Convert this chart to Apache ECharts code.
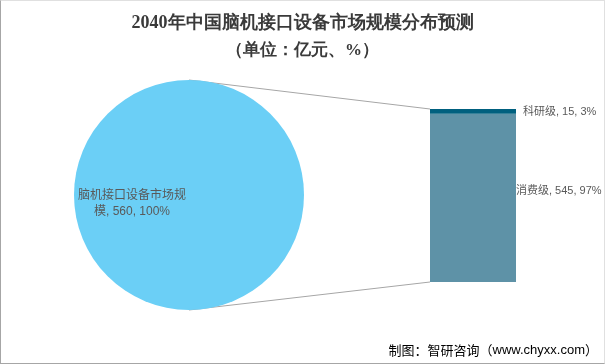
<!DOCTYPE html>
<html><head><meta charset="utf-8">
<script src="https://cdn.jsdelivr.net/npm/echarts@6/dist/echarts.min.js"></script>
<style>html,body{margin:0;padding:0;background:#fff}#c{width:605px;height:364px;box-sizing:border-box;border:1px solid #a6a6a6;border-top-color:#e0e0e0;border-right-color:#e0e0e0}</style>
</head><body><div id="c"></div>
<script>
var titleText = '2040年中国脑机接口设备市场规模分布预测';
var subTitleText = '（单位：亿元、%）';
var pieName = '脑机接口设备市场规模';
var pieValue = 560;
var piePercent = 100;
var barCategories = ['消费级', '科研级'];
var barValues = [545, 15];
var barPercents = [97, 3];

var PIE_C = [188, 194], PIE_R = 115;
var chart = echarts.init(document.getElementById('c'), null, {renderer: 'canvas'});
var font = 'Liberation Sans, Noto Sans CJK SC, sans-serif';
var barSeries = barCategories.map(function (name, i) {
  var isTop = i === barCategories.length - 1;
  return {
    type: 'bar', name: name, stack: 's', barWidth: '100%',
    data: [barValues[i]],
    itemStyle: {color: isTop ? '#00607F' : '#5E92A7'},
    label: {
      show: true, position: 'right', distance: isTop ? 7 : 0,
      offset: isTop ? [0, 1] : [0, -7],
      color: '#595959', fontSize: 11, fontFamily: font,
      formatter: function () { return name + ', ' + barValues[i] + ', ' + barPercents[i] + '%'; }
    },
    emphasis: {disabled: true}, silent: true
  };
});
var footer = {
  id: 'footer', type: 'text', right: 6, bottom: 6,
  style: {
    text: '{a|制图：智研咨询（}{b|www.chyxx.com}{a|）}',
    rich: {
      a: {fontSize: 13, color: '#111', fontFamily: 'Noto Sans CJK SC'},
      b: {fontSize: 13, color: '#1a2f8a', fontFamily: 'Liberation Sans'}
    }
  }
};
chart.setOption({
  animation: false,
  title: [
    {text: titleText, left: 'center', top: 8, textStyle: {fontSize: 18, fontWeight: 'bold', color: '#3a3a3a', fontFamily: 'Liberation Serif'}},
    {text: subTitleText, left: 'center', top: 36, textStyle: {fontSize: 17, fontWeight: 'bold', color: '#3a3a3a', fontFamily: 'Liberation Serif'}}
  ],
  grid: {left: 429, top: 108, width: 86, height: 173},
  xAxis: {type: 'category', data: ['x'], show: false},
  yAxis: {type: 'value', min: 0, max: pieValue, show: false},
  series: [{
    type: 'pie', center: PIE_C, radius: PIE_R, silent: true,
    data: [{name: pieName, value: pieValue}],
    itemStyle: {color: '#6BCFF6'},
    label: {
      position: 'center', offset: [-57, 9], width: 112, overflow: 'break', align: 'center',
      color: '#595959', fontSize: 12, lineHeight: 16, fontFamily: font,
      formatter: function () { return pieName + ', ' + pieValue + ', ' + piePercent + '%'; }
    },
    labelLine: {show: false}, emphasis: {disabled: true}
  }].concat(barSeries),
  graphic: [footer]
});
// connector lines from pie top/bottom to bar top/bottom
var topPt = chart.convertToPixel({xAxisIndex: 0, yAxisIndex: 0}, [0, pieValue]);
var botPt = chart.convertToPixel({xAxisIndex: 0, yAxisIndex: 0}, [0, 0]);
var barLeft = chart.getModel().getComponent('grid').coordinateSystem.getRect().x;
chart.setOption({graphic: [footer, {
  id: 'lineTop', type: 'line', shape: {x1: PIE_C[0], y1: PIE_C[1] - PIE_R, x2: barLeft, y2: topPt[1]}, style: {stroke: '#a6a6a6', lineWidth: 1}, z: 0
}, {
  id: 'lineBot', type: 'line', shape: {x1: PIE_C[0], y1: PIE_C[1] + PIE_R, x2: barLeft, y2: botPt[1]}, style: {stroke: '#a6a6a6', lineWidth: 1}, z: 0
}]});
</script></body></html>
